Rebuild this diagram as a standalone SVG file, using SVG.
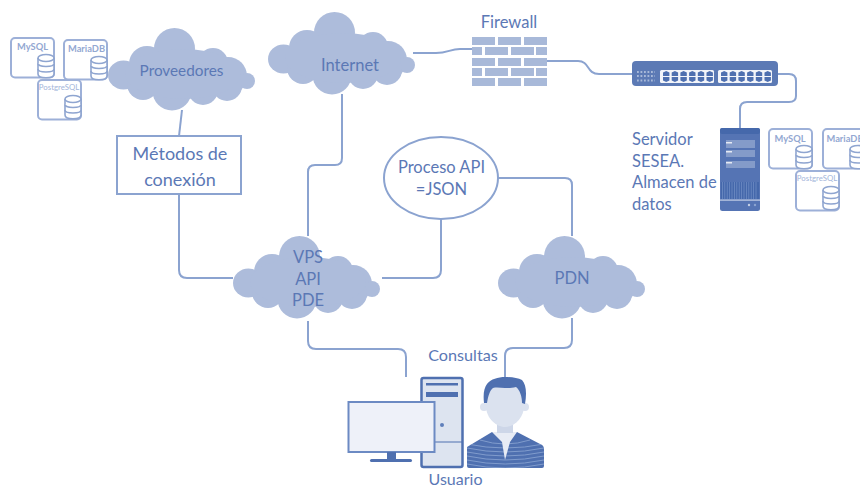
<svg xmlns="http://www.w3.org/2000/svg" xmlns:xlink="http://www.w3.org/1999/xlink" width="860" height="487" viewBox="0 0 860 487">
<style>
text{font-family:Lato,"Open Sans","Liberation Sans",sans-serif;fill:#5b78b5;text-anchor:middle}
.t{font-size:16.500px}
.tl{font-size:18px}
.cl{fill:#adbcdb}
.c{fill:none;stroke:#8ba3d0;stroke-width:2}
.card{fill:#fff;stroke:#9db0d8;stroke-width:2}
.cyl{fill:#fff;stroke:#8fa5d0;stroke-width:1.600}
.db{font-size:9.300px;font-weight:700;fill:#93a8d2}
.dbs{font-size:7.800px;font-weight:400;fill:#a3b5da}
.brick{fill:#a8b9d9}
.d{fill:#4f70b0}
.p{fill:#dbe2ef}
</style>
<defs>
<g id="cloud" class="cl">
<circle cx="66.500" cy="20.500" r="20.500"/>
<ellipse cx="15.500" cy="47" rx="15.500" ry="14.500"/>
<circle cx="39" cy="36" r="18"/>
<circle cx="105" cy="35" r="15"/>
<circle cx="120" cy="48" r="19"/>
<ellipse cx="139" cy="53" rx="8" ry="8"/>
<circle cx="119" cy="58" r="15"/>
<circle cx="64" cy="63" r="19.500"/>
<circle cx="95" cy="62" r="15"/>
<circle cx="35" cy="56" r="16"/>
<ellipse cx="75" cy="46" rx="58" ry="25"/>
</g>
<g id="cyl">
<path class="cyl" d="M-8 -8V8C-8 13 8 13 8 8V-8"/>
<ellipse class="cyl" cx="0" cy="-8" rx="8" ry="3.500"/>
<path class="cyl" d="M-8 -2.500C-8 1.500 8 1.500 8 -2.500M-8 3C-8 7 8 7 8 3"/>
</g>
<rect id="card" class="card" width="43" height="39.500" rx="4"/>
<g id="port"><path fill="#4f70b0" d="M0 1.500L3.200 0L6.400 1.500V5H0zM0 6H6.400V9.500L3.200 11L0 9.500z"/></g>
<g id="portrow"><use xlink:href="#port" x="0"/><use xlink:href="#port" x="8.700"/><use xlink:href="#port" x="17.400"/><use xlink:href="#port" x="26.100"/><use xlink:href="#port" x="34.800"/><use xlink:href="#port" x="43.500"/></g>
<clipPath id="bodyclip"><path d="M467 447L492 432H517L542 445Q544 446 544 450V466Q544 468 542 468H469Q467 468 467 466Z"/></clipPath>
</defs>

<g id="connectors">
<path class="c" d="M413 53H436C448 53 450 49 460 49H472"/>
<path class="c" d="M547 61H578C590 61 586 74 599 74H632"/>
<path class="c" d="M778 74H789Q796 74 796 81V96Q796 102 789 102H747Q740 102 740 109V128"/>
<path class="c" d="M182 110L179 136"/>
<path class="c" d="M179 194V270Q179 278 187 278H233"/>
<path class="c" d="M342 94V158Q342 165 335 165H315Q308 165 308 172V236"/>
<path class="c" d="M496 178H565Q572 178 572 185V236"/>
<path class="c" d="M441 219V270Q441 278 433 278H382"/>
<path class="c" d="M308 321V341Q308 349 316 349H398Q406 349 406 357V377"/>
<path class="c" d="M572 318V340Q572 348 564 348H513Q505 348 505 356V377"/>
</g>

<g id="db-left">
<use xlink:href="#card" x="11" y="38"/><use xlink:href="#cyl" x="46" y="66"/>
<text class="db" x="32.500" y="50">MySQL</text>
<use xlink:href="#card" x="64" y="40"/><use xlink:href="#cyl" x="99" y="68"/>
<text class="db" x="86.500" y="52">MariaDB</text>
<use xlink:href="#card" x="38" y="80"/><use xlink:href="#cyl" x="73" y="107"/>
<text class="db dbs" x="59" y="90">PostgreSQL</text>
</g>

<g id="proveedores"><use xlink:href="#cloud" x="108" y="28"/><text class="t" x="181.500" y="76" style="font-size:15.300px">Proveedores</text></g>
<g id="internet"><use xlink:href="#cloud" x="268" y="12"/><text class="t" x="350" y="70.500">Internet</text></g>

<g id="firewall">
<text class="t" x="509" y="28">Firewall</text>
<g class="brick">
<rect x="472" y="37" width="23" height="8"/><rect x="498" y="37" width="23" height="8"/><rect x="524" y="37" width="23" height="8"/>
<rect x="472" y="47" width="10" height="8"/><rect x="485" y="47" width="23" height="8"/><rect x="511" y="47" width="23" height="8"/><rect x="536" y="47" width="11" height="8"/>
<rect x="472" y="58" width="23" height="8"/><rect x="498" y="58" width="23" height="8"/><rect x="524" y="58" width="23" height="8"/>
<rect x="472" y="68" width="10" height="8"/><rect x="485" y="68" width="23" height="8"/><rect x="511" y="68" width="23" height="8"/><rect x="536" y="68" width="11" height="8"/>
<rect x="472" y="78" width="23" height="8"/><rect x="498" y="78" width="23" height="8"/><rect x="524" y="78" width="23" height="8"/>
</g>
</g>

<g id="switch">
<rect fill="#5c7ab5" x="632" y="61" width="146" height="25" rx="4"/>
<rect x="660" y="70" width="54" height="13" rx="1.500" fill="#f3f5fa"/>
<rect x="718" y="70" width="54" height="13" rx="1.500" fill="#f3f5fa"/>
<use xlink:href="#portrow" x="663" y="71"/><use xlink:href="#portrow" x="721" y="71"/>
<path stroke="#a8b9d9" stroke-width="1.800" stroke-dasharray="1.800 1.700" fill="none" d="M637 72H655M637 76H655M637 80.500H655"/>
</g>

<g id="servidor">
<text class="t"><tspan x="632" y="145" text-anchor="start">Servidor</tspan><tspan x="632" y="167" text-anchor="start">SESEA.</tspan><tspan x="632" y="188" text-anchor="start">Almacen de</tspan><tspan x="632" y="210" text-anchor="start">datos</tspan></text>
<rect fill="#5574b4" x="720" y="128" width="40" height="83" rx="2.500"/>
<rect x="720" y="128" width="40" height="6" rx="2" fill="#4568ab"/>
<path fill="#849bc9" d="M726 140h29v8h-29zM726 150h29v7h-29zM726 161h29v7h-29z"/>
<path fill="#e5eaf4" d="M726 142h6v1.500h-6zM726 151h6v1.500h-6zM726 162h6v1.500h-6z"/>
<rect x="721" y="182" width="38" height="17" fill="#4568ab"/>
<path stroke="#6e8cc4" stroke-dasharray="0.800 1.600" fill="none" d="M722 190.500H758" style="stroke-width:17"/>
<rect x="720" y="199.500" width="40" height="1.200" fill="#c5d0e6"/>
<circle cx="749" cy="205" r="1.200" fill="#c5d0e6"/><circle cx="755" cy="205" r="1.200" fill="#8ba3d0"/>
</g>

<g id="db-right">
<use xlink:href="#card" x="769" y="129"/><use xlink:href="#cyl" x="804" y="157"/>
<text class="db" x="790" y="142">MySQL</text>
<use xlink:href="#card" x="823" y="129"/><use xlink:href="#cyl" x="858" y="157"/>
<text class="db" x="845" y="142">MariaDB</text>
<use xlink:href="#card" x="796" y="171"/><use xlink:href="#cyl" x="831" y="198"/>
<text class="db dbs" x="817" y="181">PostgreSQL</text>
</g>

<g id="metodos">
<rect x="117" y="136" width="124" height="58" fill="#fff" stroke="#8ba3d0" stroke-width="2"/>
<text class="tl" x="180" y="160">Métodos de</text>
<text class="tl" x="180" y="186">conexión</text>
</g>

<g id="proceso">
<ellipse cx="441" cy="178" rx="57" ry="41" fill="#fff" stroke="#8ba3d0" stroke-width="2"/>
<text class="t" x="441.500" y="173">Proceso API</text>
<text class="t" x="441.500" y="195">=JSON</text>
</g>

<g id="vps"><use xlink:href="#cloud" x="233" y="236"/>
<text class="t" x="308" y="263">VPS</text><text class="t" x="308" y="285">API</text><text class="t" x="308" y="306">PDE</text></g>
<g id="pdn"><use xlink:href="#cloud" x="498" y="236"/><text class="t" x="572" y="284">PDN</text></g>

<g id="usuario">
<text class="t" x="463" y="361" style="font-size:16.200px">Consultas</text>
<rect x="421.500" y="378" width="41" height="89" rx="2" fill="#dde4f0" stroke="#4f70b0" stroke-width="2.500"/>
<rect x="426" y="383" width="32" height="2.500" fill="#4f70b0"/>
<rect x="426" y="392" width="32" height="5" fill="#4f70b0"/>
<path stroke="#4f70b0" stroke-width="1" d="M422 442H462"/>
<circle cx="442" cy="425" r="2" fill="#5f7fbb"/>
<rect x="348.500" y="402" width="86" height="50" fill="#eef1f9" stroke="#6c8ac3" stroke-width="2"/>
<rect x="387" y="452" width="9" height="8" fill="#4f70b0"/>
<rect x="370" y="459" width="42" height="3" rx="1.500" fill="#4f70b0"/>
<path class="d" d="M467 447L492 432H517L542 445Q544 446 544 450V466Q544 468 542 468H469Q467 468 467 466Z"/>
<g clip-path="url(#bodyclip)" fill="none" stroke="#86a0cf" stroke-width="0.900">
<path d="M467 444Q505 452 544 444M467 448Q505 456 544 448M467 452Q505 460 544 452M467 456Q505 464 544 456M467 460Q505 468 544 460M467 464Q505 472 544 464"/>
<path d="M480 440Q505 448 530 440"/>
</g>
<path fill="#e8ecf5" d="M492 432H517L510 442L505 460L502 442Z"/>
<rect x="497" y="420" width="16" height="13" fill="#cdd6e8"/>
<circle cx="484" cy="407" r="4" class="p"/><circle cx="525" cy="407" r="4" class="p"/>
<path class="p" d="M486 385H524V406C524 418 514 427 505 427C496 427 486 418 486 406Z"/>
<path class="d" d="M484 403C483 394 484 388 487 384C491 379 498 377 505 377C512 377 518 378 522 380C526 384 527 393 525 404C524 404 523 403 522 403C522 397 520 390 516 387C512 388 509 388 505 388C501 388 497 387 493 388C490 390 488 396 487 403C486 403 485 403 484 403Z"/>
<text class="t" x="455.500" y="485" style="font-size:16px">Usuario</text>
</g>
</svg>
